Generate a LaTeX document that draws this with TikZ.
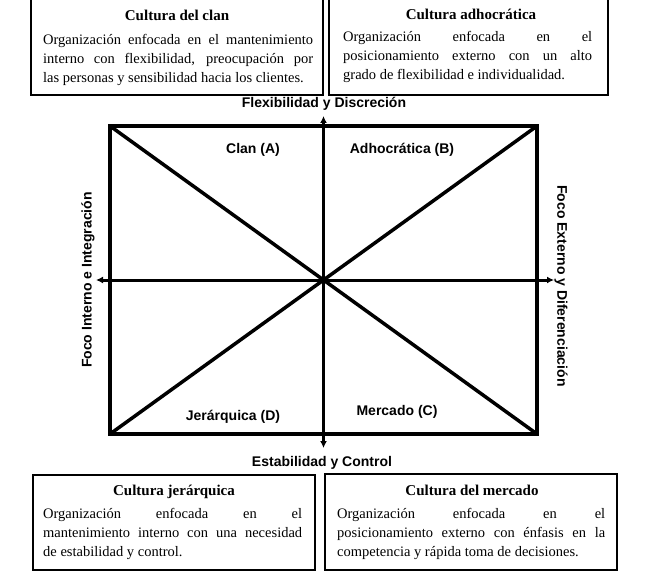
\documentclass[tikz,border=0pt]{standalone}
\usepackage{fontspec}
\setmainfont{Liberation Serif}
\setsansfont{Liberation Sans}
\usetikzlibrary{arrows.meta}
\begin{document}
\begin{tikzpicture}[x=1pt,y=-1pt,
  box/.style={draw, line width=2pt, inner sep=0, outer sep=0, anchor=north west},
  ttl/.style={font=\fontsize{15}{17}\selectfont\bfseries, inner sep=0, anchor=base},
  body/.style={font=\fontsize{14.5}{19}\selectfont, align=justify, inner sep=0, anchor=north west},
  lab/.style={font=\fontsize{14}{16}\selectfont\sffamily\bfseries, inner sep=0},
  quad/.style={draw, line width=4.5pt, inner sep=0, outer sep=0},
  diag/.style={line width=3.5pt},
  axis/.style={line width=3pt, {Latex[length=7pt,width=7pt]}-{Latex[length=7pt,width=7pt]}}
]
\useasboundingbox (0,0) rectangle (650,572);

% boxes
\node (clanbox) [box, minimum width=292pt, minimum height=97pt] at (31,-2) {};
\node (adhobox) [box, minimum width=279pt, minimum height=97pt] at (329,-2) {};
\node (jerbox)  [box, minimum width=282pt, minimum height=95pt] at (33,475) {};
\node (merbox)  [box, minimum width=292pt, minimum height=96pt] at (325,474) {};

\node (clant) [ttl] at (177,21) {Cultura del clan};
\node (clanb) [body, text width=270pt] at (43,30.7) {\strut Organización enfocada en el mantenimiento\linebreak interno con flexibilidad, preocupación por\linebreak las personas y sensibilidad hacia los clientes.};

\node (adhot) [ttl] at (471,20) {Cultura adhocrática};
\node (adhob) [body, text width=249pt] at (343,27.7) {\strut Organización enfocada en el\linebreak posicionamiento externo con un alto\linebreak grado de flexibilidad e individualidad.};

\node (jert) [ttl] at (174,495) {Cultura jerárquica};
\node (jerb) [body, text width=259pt] at (43,504.7) {\strut Organización enfocada en el\linebreak mantenimiento interno con una necesidad\linebreak de estabilidad y control.};

\node (mert) [ttl] at (472,495) {Cultura del mercado};
\node (merb) [body, text width=268pt] at (337,504.7) {\strut Organización enfocada en el\linebreak posicionamiento externo con énfasis en la\linebreak competencia y rápida toma de decisiones.};

% quadrant
\node (q) [quad, minimum width=427pt, minimum height=308pt] at (323.5,280) {};
\coordinate (c) at (323.5,280);
\draw[diag] (q.north west) -- (q.south east);
\draw[diag] (q.south west) -- (q.north east);
\coordinate (ntip) at (323.5,116);
\coordinate (stip) at (323.5,448);
\coordinate (wtip) at (96,280);
\coordinate (etip) at (554,280);
\draw[axis] (stip) -- (ntip);
\draw[axis] (wtip) -- (etip);

% labels
\node (flex) [lab] at (324,104) {Flexibilidad y Discreción};
\node (est)  [lab] at (322,463) {Estabilidad y Control};
\node (fint) [lab, rotate=90] at (88,280) {Foco Interno e Integración};
\node (fext) [lab, rotate=-90] at (561,286) {Foco Externo y Diferenciación};
\node (clan) [lab] at (253,150) {Clan (A)};
\node (adho) [lab] at (402,150) {Adhocrática (B)};
\node (jer)  [lab] at (233,417) {Jerárquica (D)};
\node (mer)  [lab] at (397,412) {Mercado (C)};
\end{tikzpicture}
\end{document}
